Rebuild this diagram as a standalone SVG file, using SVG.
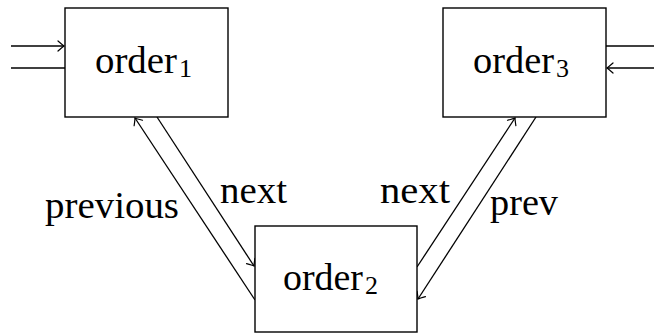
<svg xmlns="http://www.w3.org/2000/svg" width="654" height="333" viewBox="0 0 654 333">
  <style>
    .box { fill: #ffffff; stroke: #000000; stroke-width: 1.4; }
    .edge { fill: none; stroke: #000000; stroke-width: 1.3; }
    .lbl { font-family: "Liberation Serif", "DejaVu Serif", serif; font-size: 37px; fill: #000000; }
    .sub { font-family: "Liberation Serif", "DejaVu Serif", serif; font-size: 26px; fill: #000000; }
  </style>
  <defs>
    <!-- open curved "to" arrow tip -->
    <marker id="tip" markerUnits="userSpaceOnUse" markerWidth="14" markerHeight="14" viewBox="-10 -7 12 14" refX="0" refY="0" orient="auto">
      <path d="M -6 -5 Q -1.5 -1 0 0 Q -1.5 1 -6 5" fill="none" stroke="#000000" stroke-width="1.2" stroke-linecap="round"/>
    </marker>
  </defs>

  <g id="connectors">
    <!-- external links on order1 -->
    <line class="edge" x1="11" y1="46" x2="64" y2="46" marker-end="url(#tip)"/>
    <line class="edge" x1="11" y1="68" x2="65" y2="68"/>
    <!-- external links on order3 -->
    <line class="edge" x1="606" y1="46" x2="654" y2="46"/>
    <line class="edge" x1="654" y1="68" x2="607" y2="68" marker-end="url(#tip)"/>
    <!-- order1 <-> order2 -->
    <line class="edge" x1="255" y1="300" x2="135" y2="118" marker-end="url(#tip)"/>
    <line class="edge" x1="157" y1="117" x2="254" y2="266" marker-end="url(#tip)"/>
    <!-- order2 <-> order3 -->
    <line class="edge" x1="417" y1="267" x2="515" y2="118" marker-end="url(#tip)"/>
    <line class="edge" x1="536" y1="117" x2="418" y2="299" marker-end="url(#tip)"/>
    <!-- edge labels -->
    <text class="lbl" x="45" y="218" textLength="134" lengthAdjust="spacingAndGlyphs">previous</text>
    <text class="lbl" x="220" y="203" textLength="67" lengthAdjust="spacingAndGlyphs">next</text>
    <text class="lbl" x="380" y="203" textLength="70" lengthAdjust="spacingAndGlyphs">next</text>
    <text class="lbl" x="490" y="215" textLength="68" lengthAdjust="spacingAndGlyphs">prev</text>
  </g>

  <g id="order1">
    <rect class="box" x="65" y="8" width="163" height="109"/>
    <text class="lbl" x="95" y="73" textLength="82" lengthAdjust="spacingAndGlyphs">order</text>
    <text class="sub" x="179" y="77">1</text>
  </g>

  <g id="order2">
    <rect class="box" x="255" y="226" width="162" height="106"/>
    <text class="lbl" x="283" y="290" textLength="80" lengthAdjust="spacingAndGlyphs">order</text>
    <text class="sub" x="365" y="294">2</text>
  </g>

  <g id="order3">
    <rect class="box" x="443" y="8" width="163" height="109"/>
    <text class="lbl" x="473" y="73" textLength="81" lengthAdjust="spacingAndGlyphs">order</text>
    <text class="sub" x="556" y="77">3</text>
  </g>
</svg>
